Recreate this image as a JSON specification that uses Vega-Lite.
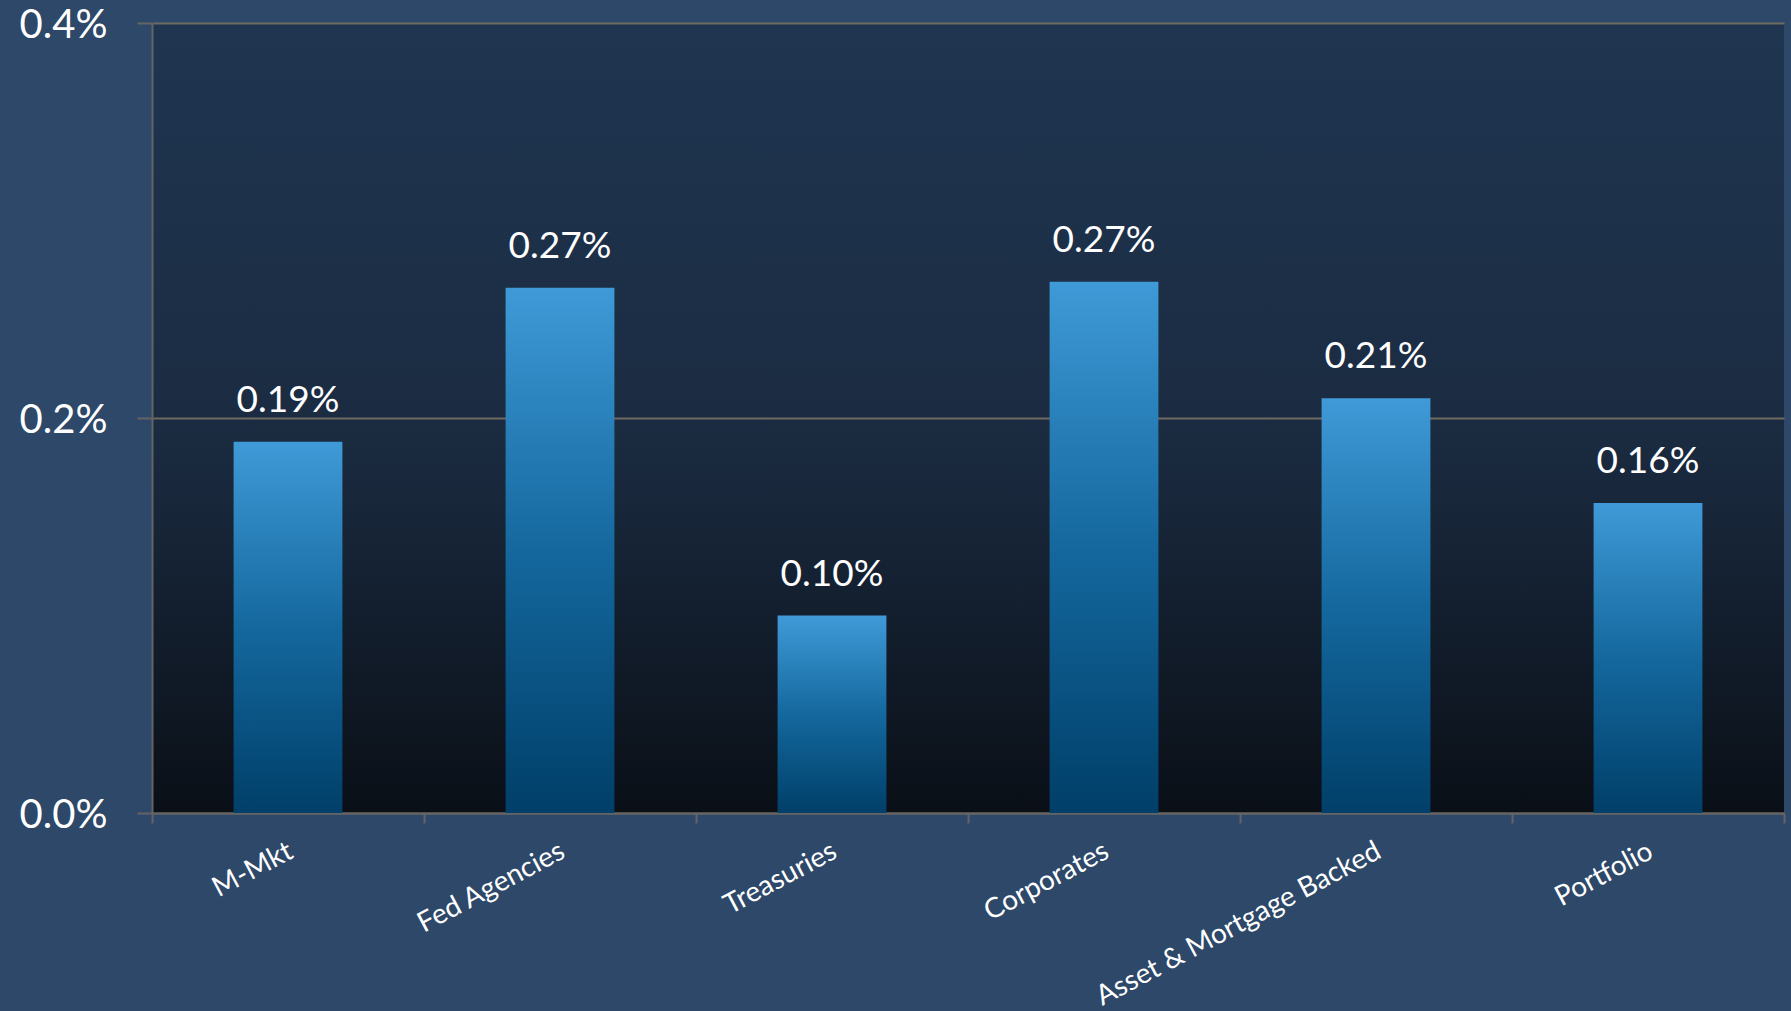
{
  "$schema": "https://vega.github.io/schema/vega-lite/v6.json",
  "width": 1632,
  "height": 790,
  "autosize": {"type": "none"},
  "padding": {"left": 152, "top": 23, "right": 7, "bottom": 198},
  "background": "#2d4868",
  "config": {
    "view": {
      "stroke": null,
      "fill": {
        "gradient": "linear",
        "x1": 0, "y1": 0, "x2": 0, "y2": 1,
        "stops": [
          {"offset": 0, "color": "rgba(14,30,52,0.45)"},
          {"offset": 0.5, "color": "rgba(15,25,40,0.6)"},
          {"offset": 1, "color": "rgba(8,12,18,0.95)"}
        ]
      }
    },
    "font": "Lato"
  },
  "data": {
    "values": [
      {"category": "M-Mkt", "value": 0.00188},
      {"category": "Fed Agencies", "value": 0.00266},
      {"category": "Treasuries", "value": 0.00100},
      {"category": "Corporates", "value": 0.00269},
      {"category": "Asset & Mortgage Backed", "value": 0.00210},
      {"category": "Portfolio", "value": 0.00157}
    ]
  },
  "encoding": {
    "x": {
      "field": "category",
      "type": "nominal",
      "sort": null,
      "scale": {"paddingInner": 0, "paddingOuter": 0},
      "axis": {
        "title": null,
        "tickBand": "extent",
        "labelAngle": -28,
        "labelAlign": "right",
        "labelBaseline": "top",
        "labelFont": "Lato",
        "labelFontSize": 28,
        "labelColor": "#ffffff",
        "labelPadding": 14,
        "labelLimit": 0,
        "labelOffset": -4,
        "tickSize": 10,
        "tickColor": "#646464",
        "tickWidth": 2,
        "domainColor": "#646464",
        "domainWidth": 2,
        "grid": false
      }
    },
    "y": {
      "field": "value",
      "type": "quantitative",
      "scale": {"domain": [0, 0.004], "nice": false},
      "axis": {
        "title": null,
        "values": [0, 0.002, 0.004],
        "format": ".1%",
        "labelFont": "Lato",
        "labelFontSize": 40,
        "labelColor": "#ffffff",
        "labelPadding": 30,
        "labelOffset": 2,
        "labelFlush": false,
        "tickSize": 15,
        "tickColor": "#646464",
        "tickWidth": 2,
        "domainColor": "#646464",
        "domainWidth": 2,
        "grid": true,
        "gridColor": "#6e6a60",
        "gridWidth": 2
      }
    }
  },
  "layer": [
    {
      "mark": {
        "type": "bar",
        "width": {"band": 0.4},
        "color": {
          "gradient": "linear",
          "x1": 0, "y1": 0, "x2": 0, "y2": 1,
          "stops": [
            {"offset": 0, "color": "#3f9ad7"},
            {"offset": 0.5, "color": "#14689e"},
            {"offset": 1, "color": "#003f69"}
          ]
        }
      }
    },
    {
      "mark": {
        "type": "text",
        "baseline": "bottom",
        "dy": -22,
        "font": "Lato",
        "fontSize": 37,
        "color": "#ffffff"
      },
      "encoding": {
        "text": {"field": "value", "type": "quantitative", "format": ".2%"}
      }
    }
  ]
}
